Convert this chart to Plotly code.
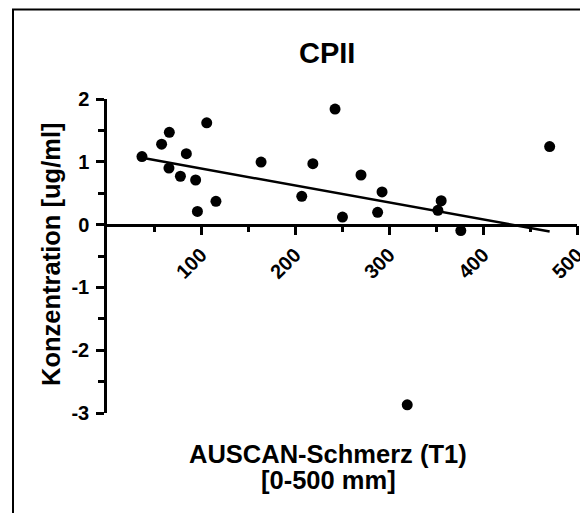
import numpy as np
import plotly.graph_objects as go

# Data
x_vals = [37.2, 58.1, 66.3, 65.9, 78.1, 84.4, 94.3, 96.2, 106.1, 115.9, 163.9, 207.2,
          219.0, 242.6, 250.5, 270.2, 287.9, 292.6, 352.0, 355.5, 376.4, 470.9, 319.4]
y_vals = [1.084, 1.28, 1.47, 0.90, 0.77, 1.13, 0.71, 0.21, 1.62, 0.37, 0.995, 0.45,
          0.97, 1.84, 0.12, 0.79, 0.195, 0.52, 0.227, 0.38, -0.095, 1.243, -2.87]

x_tickvals = [100, 200, 300, 400, 500]
x_ticktext = ["100", "200", "300", "400", "500"]
x_minor = [50, 150, 250, 350, 450]
y_tickvals = [-3, -2, -1, 0, 1, 2]
y_ticktext = ["-3", "-2", "-1", "0", "1", "2"]
y_minor = [-2.5, -1.5, -0.5, 0.5, 1.5]

title_text = "CPII"
x_title_lines = ["AUSCAN-Schmerz (T1)", "[0-500 mm]"]
y_title = "Konzentration [ug/ml]"

# linear regression
xa = np.array(x_vals)
ya = np.array(y_vals)
slope, intercept = np.polyfit(xa, ya, 1)
line_x = np.array([xa.min(), xa.max()])
line_y = slope * line_x + intercept

FONT = "Liberation Sans, Arial, sans-serif"
W, H = 580, 513
L, R, T, B = 107, 3, 99, 100

fig = go.Figure()
fig.add_trace(go.Scatter(x=line_x, y=line_y, mode="lines",
                         line=dict(color="black", width=2.5), hoverinfo="skip",
                         showlegend=False))
fig.add_trace(go.Scatter(x=x_vals, y=y_vals, mode="markers",
                         marker=dict(color="black", size=11, line=dict(width=0)),
                         showlegend=False, cliponaxis=False))

fig.update_layout(
    width=W, height=H,
    margin=dict(l=L, r=R, t=T, b=B, autoexpand=False),
    paper_bgcolor="white", plot_bgcolor="white",
    font=dict(family=FONT, color="black"),
    showlegend=False,
)

fig.update_xaxes(
    range=[0, 500], anchor="free", position=0.6,
    showline=True, linecolor="black", linewidth=2.5,
    showgrid=False, zeroline=False,
    tickmode="array", tickvals=x_tickvals, ticktext=x_ticktext,
    ticks="outside", ticklen=9, tickwidth=2.5, tickcolor="black",
    tickangle=-45, ticklabeloverflow="allow",
    tickfont=dict(family=FONT, size=20, color="black", weight="bold"),
    minor=dict(tickmode="array", tickvals=x_minor, ticks="outside", ticklen=6,
               tickwidth=2.5, tickcolor="black", showgrid=False),
)
fig.update_yaxes(
    range=[-3, 2],
    showline=True, linecolor="black", linewidth=2.5,
    showgrid=False, zeroline=False,
    tickmode="array", tickvals=y_tickvals, ticktext=y_ticktext,
    ticks="outside", ticklen=8, tickwidth=2.5, tickcolor="black",
    ticklabelstandoff=3, ticklabeloverflow="allow",
    tickfont=dict(family=FONT, size=20, color="black", weight="bold"),
    minor=dict(tickmode="array", tickvals=y_minor, ticks="outside", ticklen=6,
               tickwidth=2.5, tickcolor="black", showgrid=False),
)

pw, ph = W - L - R, H - T - B

def px_x(p):
    return (p - L) / pw

def px_y(p):
    return (H - B - p) / ph

fig.add_annotation(text=title_text, xref="paper", yref="paper",
                   x=px_x(327), y=px_y(53), xanchor="center", yanchor="middle",
                   showarrow=False,
                   font=dict(family=FONT, size=29, color="black", weight="bold"))
for line, py in zip(x_title_lines, [453.5, 480]):
    fig.add_annotation(text=line, xref="paper", yref="paper",
                       x=px_x(328), y=px_y(py), xanchor="center", yanchor="middle",
                       showarrow=False,
                       font=dict(family=FONT, size=25.5, color="black", weight="bold"))
fig.add_annotation(text=y_title, xref="paper", yref="paper",
                   x=px_x(51), y=px_y(255), xanchor="center", yanchor="middle",
                   textangle=-90, showarrow=False,
                   font=dict(family=FONT, size=25.5, color="black", weight="bold"))

# outer frame (extends beyond the visible window on the right and bottom)
fig.add_shape(type="rect", xref="paper", yref="paper",
              x0=px_x(13), x1=px_x(620), y0=px_y(560), y1=px_y(9.5),
              line=dict(color="black", width=2), layer="below")

fig.write_html("out.html")
